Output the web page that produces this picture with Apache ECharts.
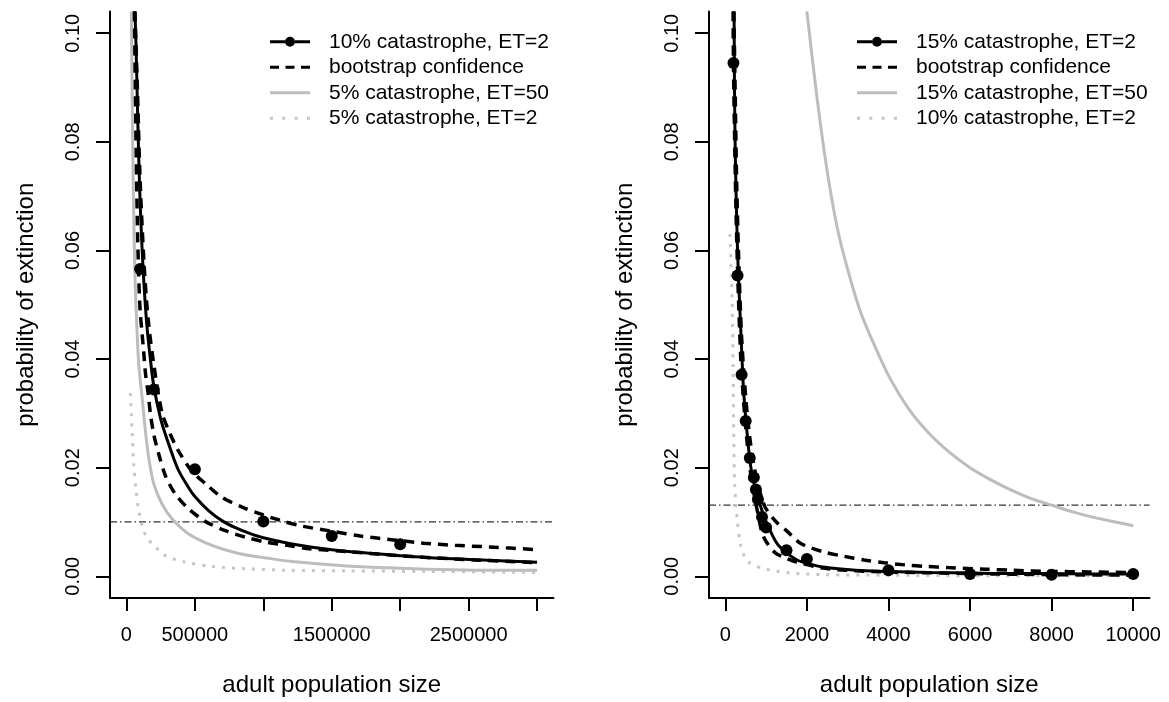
<!DOCTYPE html>
<html>
<head>
<meta charset="utf-8">
<script src="https://cdn.jsdelivr.net/npm/echarts@6/dist/echarts.min.js"></script>
<style>
  html, body { margin: 0; padding: 0; background: #ffffff; }
  #chart { width: 1169px; height: 702px; }
</style>
</head>
<body>
<div id="chart"></div>
<script>
// ---------- axis ticks and labels ----------
const yTicks = [0, 0.02, 0.04, 0.06, 0.08, 0.10];
const xTicksLeft = [0, 500000, 1000000, 1500000, 2000000, 2500000, 3000000];
const xLabelsLeft = [0, 500000, 1500000, 2500000];
const xTicksRight = [0, 2000, 4000, 6000, 8000, 10000];
const xRangeLeft = [-120000, 3120000];
const xRangeRight = [-400, 10400];
const yRange = [-0.004, 0.104];

// ---------- legend texts ----------
const legendLeft = ['10% catastrophe, ET=2', 'bootstrap confidence', '5% catastrophe, ET=50', '5% catastrophe, ET=2'];
const legendRight = ['15% catastrophe, ET=2', 'bootstrap confidence', '15% catastrophe, ET=50', '10% catastrophe, ET=2'];

// ---------- left panel: 10% catastrophe ----------
const leftFit = [[62000,0.104],[70000,0.098],[80000,0.087],[90000,0.077],[100000,0.069],[115000,0.060],[130000,0.053],[150000,0.046],[175000,0.040],[200000,0.0350],[250000,0.0290],[300000,0.0250],[375000,0.0198],[450000,0.0165],[500000,0.0147],[600000,0.0121],[700000,0.0102],[800000,0.0089],[900000,0.0079],[1000000,0.0071],[1200000,0.0060],[1400000,0.0052],[1600000,0.0046],[1800000,0.0042],[2000000,0.0038],[2300000,0.0033],[2600000,0.0030],[3000000,0.0026]];
const leftSim = [[100000,0.0566],[200000,0.0344],[500000,0.0197],[1000000,0.0101],[1500000,0.0074],[2000000,0.0059]];
const leftUpper = [[62000,0.104],[80000,0.090],[100000,0.073],[130000,0.057],[160000,0.047],[200000,0.039],[260000,0.0301],[320000,0.0262],[380000,0.0231],[480000,0.0193],[580000,0.0170],[700000,0.0145],[850000,0.0127],[1000000,0.0113],[1110000,0.0104],[1270000,0.0093],[1500000,0.0083],[1710000,0.0074],[1950000,0.0067],[2170000,0.0061],[2400000,0.0057],[2650000,0.0054],[3000000,0.0049]];
const leftLower = [[58000,0.104],[65000,0.090],[72000,0.077],[80000,0.065],[90000,0.055],[100000,0.049],[115000,0.0445],[126000,0.0414],[139000,0.0374],[160000,0.0334],[175000,0.0300],[200000,0.0261],[236000,0.0225],[285000,0.0185],[358000,0.0151],[455000,0.0124],[577000,0.0101],[723000,0.0084],[870000,0.0072],[1015000,0.0063],[1175000,0.0057],[1320000,0.0051],[1635000,0.0045],[1930000,0.0039],[2240000,0.0034],[2540000,0.0030],[3000000,0.0025]];
const leftET50 = [[36000,0.104],[42000,0.088],[48000,0.075],[55000,0.064],[65000,0.053],[78000,0.045],[90000,0.039],[115000,0.0328],[139000,0.0267],[163000,0.0218],[200000,0.0170],[260000,0.0133],[333000,0.0106],[455000,0.0078],[625000,0.0057],[820000,0.0042],[1040000,0.0033],[1210000,0.0027],[1610000,0.0019],[2100000,0.0014],[2730000,0.0011],[3000000,0.0011]];
const leftOther = [[29000,0.0337],[35000,0.0300],[41600,0.0267],[53000,0.0206],[71000,0.0157],[90000,0.0121],[126000,0.0084],[160000,0.0068],[200000,0.0057],[285000,0.0038],[430000,0.0026],[625000,0.0018],[870000,0.0014],[1185000,0.0011],[1600000,0.0010],[2200000,0.0009],[3000000,0.0007]];
const leftThreshold = 0.01;

// ---------- right panel: 15% catastrophe ----------
const rightFit = [[215,0.104],[225,0.090],[240,0.080],[265,0.070],[300,0.060],[340,0.052],[370,0.047],[410,0.040],[450,0.034],[530,0.0267],[615,0.0206],[700,0.0172],[820,0.0140],[950,0.0110],[1100,0.0084],[1270,0.0060],[1500,0.0043],[1760,0.0030],[2000,0.0024],[2400,0.0017],[3200,0.0011],[4000,0.0009],[5000,0.0007],[6000,0.0006],[7000,0.0005],[8000,0.0005],[9000,0.0004],[10000,0.0004]];
const rightSim = [[200,0.0945],[300,0.0554],[400,0.0371],[500,0.0286],[600,0.0218],[700,0.0182],[750,0.0160],[800,0.0142],[900,0.0109],[1000,0.0090],[1500,0.0048],[2000,0.0032],[4000,0.0011],[6000,0.0004],[8000,0.0003],[10000,0.0004]];
const rightUpper = [[210,0.104],[240,0.090],[280,0.072],[330,0.058],[400,0.044],[500,0.033],[600,0.0255],[700,0.0205],[800,0.0168],[900,0.0143],[1000,0.0124],[1250,0.0100],[1500,0.0084],[1840,0.0061],[2400,0.0045],[2900,0.0037],[3400,0.0030],[3900,0.0025],[4400,0.0021],[4950,0.0018],[5450,0.0016],[6400,0.0013],[7050,0.0011],[8000,0.0009],[8900,0.0008],[10000,0.0007]];
const rightLower = [[190,0.104],[200,0.094],[225,0.082],[260,0.068],[310,0.054],[380,0.040],[450,0.032],[530,0.025],[620,0.019],[720,0.0145],[820,0.0108],[900,0.0080],[1000,0.0064],[1225,0.0043],[1500,0.0033],[1760,0.0026],[2400,0.0015],[3200,0.0010],[4000,0.0008],[6000,0.0005],[8000,0.0003],[10000,0.0002]];
const rightET50 = [[2000,0.104],[2250,0.088],[2500,0.0745],[2750,0.064],[3000,0.0565],[3300,0.049],[3600,0.0435],[4000,0.037],[4500,0.0308],[5000,0.0263],[5500,0.0228],[6000,0.0200],[6500,0.0178],[7000,0.0159],[7500,0.0143],[8000,0.0131],[8500,0.0119],[9000,0.0109],[9500,0.0101],[10000,0.0093]];
const rightOther = [[115,0.063],[140,0.057],[165,0.051],[190,0.039],[205,0.027],[230,0.017],[285,0.0109],[370,0.0060],[450,0.0040],[570,0.0026],[940,0.0014],[1600,0.0006],[2400,0.0003],[4000,0.0002],[6000,0.0001],[10000,0.0001]];
const rightThreshold = 0.0131;

// ---------- styling ----------
const FONT = 'Liberation Sans, Arial, Helvetica, sans-serif';
const BLACK = '#000000';
const GREY = '#bdbdbd';
const GREY_DOT = '#c6c6c6';

const ICON_LINE_DOT = 'path://M0,3.5H15V6.5H0Z M25,3.5H40V6.5H25Z M15,5A5,5 0 1,0 25,5A5,5 0 1,0 15,5Z';
const ICON_DASH = 'path://M0,0h9v3h-9z M15.5,0h9v3h-9z M31,0h9v3h-9z';
const ICON_SOLID = 'path://M0,0h40v3h-40z';
const ICON_DOT = 'path://M0,0h3v3h-3z M12.3,0h3v3h-3z M24.6,0h3v3h-3z M37,0h3v3h-3z';

function curve(name, data, idx, color, type, width, z) {
  return {
    type: 'line', name: name, data: data,
    xAxisIndex: idx, yAxisIndex: idx,
    symbol: 'none', showSymbol: false,
    smooth: 0.3,
    lineStyle: { color: color, width: width, type: type },
    itemStyle: { color: color },
    silent: true, z: z
  };
}

// horizontal dash-dot reference line across the whole x range of a panel
function threshold(value, idx, xRange) {
  return {
    type: 'line', name: 'threshold',
    data: [[xRange[0], value], [xRange[1], value]],
    xAxisIndex: idx, yAxisIndex: idx,
    symbol: 'none', showSymbol: false, silent: true, z: 1,
    lineStyle: { color: '#333333', width: 1.2, type: [7, 3, 1.5, 3] }
  };
}

function dots(data, idx) {
  return {
    type: 'scatter', name: 'simulated', data: data,
    xAxisIndex: idx, yAxisIndex: idx,
    symbol: 'circle', symbolSize: 12,
    itemStyle: { color: BLACK, opacity: 1 }, silent: true, z: 6
  };
}

function xAxis(idx, range, ticks, labels) {
  return {
    type: 'value', gridIndex: idx, min: range[0], max: range[1],
    axisLine: { show: true, onZero: false, lineStyle: { color: BLACK, width: 2 } },
    axisTick: { show: true, length: 13, customValues: ticks, lineStyle: { color: BLACK, width: 2 } },
    axisLabel: { customValues: labels, formatter: v => String(v), margin: 27, fontSize: 20, color: BLACK, fontFamily: FONT },
    splitLine: { show: false },
    name: 'adult population size', nameLocation: 'middle', nameGap: 75,
    nameTextStyle: { fontSize: 24, color: BLACK, fontFamily: FONT }
  };
}

function yAxis(idx) {
  return {
    type: 'value', gridIndex: idx, min: yRange[0], max: yRange[1],
    axisLine: { show: true, onZero: false, lineStyle: { color: BLACK, width: 2 } },
    axisTick: { show: true, length: 14, customValues: yTicks, lineStyle: { color: BLACK, width: 2 } },
    axisLabel: { customValues: yTicks, rotate: 90, formatter: v => v.toFixed(2), margin: 27, fontSize: 20, color: BLACK, fontFamily: FONT },
    splitLine: { show: false },
    name: 'probability of extinction', nameLocation: 'middle', nameGap: 72,
    nameTextStyle: { fontSize: 24, color: BLACK, fontFamily: FONT }
  };
}

function legend(left, names, colors, icons) {
  return {
    orient: 'vertical', left: left, top: 24,
    itemWidth: 40, itemHeight: 12, itemGap: 0,
    selectedMode: false,
    textStyle: { fontSize: 21, color: BLACK, fontFamily: FONT, lineHeight: 25.5, padding: [0, 0, 0, 14] },
    data: names.map((n, i) => ({ name: n, icon: icons[i], itemStyle: { color: colors[i] } }))
  };
}

const chart = echarts.init(document.getElementById('chart'), null, { renderer: 'canvas' });

chart.setOption({
  animation: false,
  backgroundColor: '#ffffff',
  textStyle: { fontFamily: FONT },
  grid: [
    { left: 110, right: 615.5, top: 11.5, bottom: 100.9, containLabel: false },
    { left: 709, right: 19.5, top: 11.5, bottom: 100.9, containLabel: false }
  ],
  xAxis: [
    xAxis(0, xRangeLeft, xTicksLeft, xLabelsLeft),
    xAxis(1, xRangeRight, xTicksRight, xTicksRight)
  ],
  yAxis: [yAxis(0), yAxis(1)],
  legend: [
    legend(265, legendLeft, [BLACK, BLACK, GREY, GREY_DOT], [ICON_LINE_DOT, ICON_DASH, ICON_SOLID, ICON_DOT]),
    legend(852, legendRight, [BLACK, BLACK, GREY, GREY_DOT], [ICON_LINE_DOT, ICON_DASH, ICON_SOLID, ICON_DOT])
  ],
  series: [
    threshold(leftThreshold, 0, xRangeLeft),
    curve(legendLeft[3], leftOther, 0, GREY_DOT, [3, 7], 3, 2),
    curve(legendLeft[2], leftET50, 0, GREY, 'solid', 3, 3),
    curve('bootstrap confidence', leftUpper, 0, BLACK, [10, 7], 3.5, 4),
    curve('bootstrap confidence', leftLower, 0, BLACK, [10, 7], 3.5, 4),
    curve(legendLeft[0], leftFit, 0, BLACK, 'solid', 3, 5),
    dots(leftSim, 0),

    threshold(rightThreshold, 1, xRangeRight),
    curve(legendRight[3], rightOther, 1, GREY_DOT, [3, 7], 3, 2),
    curve(legendRight[2], rightET50, 1, GREY, 'solid', 3, 3),
    curve('bootstrap confidence', rightUpper, 1, BLACK, [10, 7], 3.5, 4),
    curve('bootstrap confidence', rightLower, 1, BLACK, [10, 7], 3.5, 4),
    curve(legendRight[0], rightFit, 1, BLACK, 'solid', 3, 5),
    dots(rightSim, 1)
  ]
});
</script>
</body>
</html>
